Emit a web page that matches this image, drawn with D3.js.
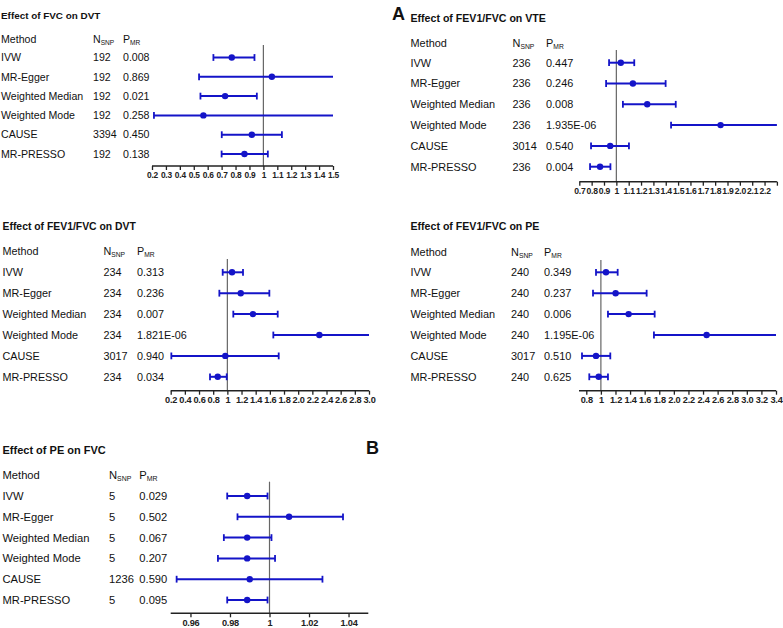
<!DOCTYPE html>
<html>
<head>
<meta charset="utf-8">
<script src="https://cdn.jsdelivr.net/npm/d3@7"></script>
<style>
  body { margin: 0; background: #fff; }
  svg { font-family: "Liberation Sans", Arial, sans-serif; }
</style>
</head>
<body>
<svg id="chart" width="783" height="628"></svg>
<script>
// shared row labels
const methods = ["IVW", "MR-Egger", "Weighted Median", "Weighted Mode", "CAUSE", "MR-PRESSO"];

// Effect of FVC on DVT
const fvcDvtN = ["192", "192", "192", "192", "3394", "192"];
const fvcDvtP = ["0.008", "0.869", "0.021", "0.258", "0.450", "0.138"];
const fvcDvtOR = [0.773, 1.061, 0.725, 0.569, 0.917, 0.864];
const fvcDvtLo = [0.641, 0.538, 0.548, 0.214, 0.701, 0.700];
const fvcDvtHi = [0.936, 2.09, 0.953, 1.51, 1.133, 1.032];
const fvcDvtTicks = [0.2, 0.3, 0.4, 0.5, 0.6, 0.7, 0.8, 0.9, 1, 1.1, 1.2, 1.3, 1.4, 1.5];
const fvcDvtTickLabels = ["0.2", "0.3", "0.4", "0.5", "0.6", "0.7", "0.8", "0.9", "1", "1.1", "1.2", "1.3", "1.4", "1.5"];

// Effect of FEV1/FVC on VTE
const vteN = ["236", "236", "236", "236", "3014", "236"];
const vteP = ["0.447", "0.246", "0.008", "1.935E-06", "0.540", "0.004"];
const vteOR = [1.036, 1.134, 1.250, 1.844, 0.950, 0.868];
const vteLo = [0.941, 0.917, 1.053, 1.443, 0.795, 0.787];
const vteHi = [1.145, 1.399, 1.481, 2.36, 1.102, 0.952];
const vteTicks = [0.7, 0.8, 0.9, 1, 1.1, 1.2, 1.3, 1.4, 1.5, 1.6, 1.7, 1.8, 1.9, 2.0, 2.1, 2.2, 2.3];
const vteTickLabels = ["0.7", "0.8", "0.9", "1", "1.1", "1.2", "1.3", "1.4", "1.5", "1.6", "1.7", "1.8", "1.9", "2.0", "2.1", "2.2", ""];

// Effect of FEV1/FVC on DVT
const dvtN = ["234", "234", "234", "234", "3017", "234"];
const dvtP = ["0.313", "0.236", "0.007", "1.821E-06", "0.940", "0.034"];
const dvtOR = [1.066, 1.189, 1.362, 2.299, 0.971, 0.864];
const dvtLo = [0.934, 0.887, 1.084, 1.649, 0.209, 0.755];
const dvtHi = [1.221, 1.593, 1.711, 3.2, 1.725, 0.991];
const dvtTicks = [0.2, 0.4, 0.6, 0.8, 1, 1.2, 1.4, 1.6, 1.8, 2.0, 2.2, 2.4, 2.6, 2.8, 3.0];
const dvtTickLabels = ["0.2", "0.4", "0.6", "0.8", "1", "1.2", "1.4", "1.6", "1.8", "2.0", "2.2", "2.4", "2.6", "2.8", "3.0"];

// Effect of FEV1/FVC on PE
const peN = ["240", "240", "240", "240", "3017", "240"];
const peP = ["0.349", "0.237", "0.006", "1.195E-06", "0.510", "0.625"];
const peOR = [1.070, 1.202, 1.380, 2.449, 0.933, 0.970];
const peLo = [0.933, 0.892, 1.097, 1.727, 0.741, 0.841];
const peHi = [1.230, 1.627, 1.737, 3.47, 1.129, 1.097];
const peTicks = [0.8, 1, 1.2, 1.4, 1.6, 1.8, 2.0, 2.2, 2.4, 2.6, 2.8, 3.0, 3.2, 3.4];
const peTickLabels = ["0.8", "1", "1.2", "1.4", "1.6", "1.8", "2.0", "2.2", "2.4", "2.6", "2.8", "3.0", "3.2", "3.4"];

// Effect of PE on FVC
const peFvcN = ["5", "5", "5", "5", "1236", "5"];
const peFvcP = ["0.029", "0.502", "0.067", "0.207", "0.590", "0.095"];
const peFvcOR = [0.9887, 1.0099, 0.9887, 0.9887, 0.9900, 0.9887];
const peFvcLo = [0.9786, 0.9838, 0.9769, 0.9739, 0.9530, 0.9786];
const peFvcHi = [0.9990, 1.0372, 1.0010, 1.0028, 1.0268, 0.9990];
const peFvcTicks = [0.96, 0.98, 1, 1.02, 1.04];
const peFvcTickLabels = ["0.96", "0.98", "1", "1.02", "1.04"];

const blue = "#1414c8";
const svg = d3.select("#chart");

// layout of each panel
const panels = [
  { title: "Effect of FVC on DVT", n: fvcDvtN, p: fvcDvtP, or: fvcDvtOR, lo: fvcDvtLo, hi: fvcDvtHi,
    ticks: fvcDvtTicks, labels: fvcDvtTickLabels, domain: [0.2, 1.5], range: [152, 333],
    x0: 1, nX: 93, pX: 123, titleY: 16, headY: 39, rowTop: 57.5, rowStep: 19.3, axisY: 166, refTop: 45, fs: 10.6, tfs: 9.9, afs: 8.4 },
  { title: "Effect of FEV1/FVC on VTE", n: vteN, p: vteP, or: vteOR, lo: vteLo, hi: vteHi,
    ticks: vteTicks, labels: vteTickLabels, domain: [0.7, 2.3], range: [579.3, 776.9],
    x0: 410.5, nX: 512.5, pX: 546, titleY: 18, headY: 42.7, rowTop: 62.7, rowStep: 20.8, axisY: 181.7, refTop: 50, fs: 10.9, tfs: 10.6, afs: 8.6 },
  { title: "Effect of FEV1/FVC on DVT", n: dvtN, p: dvtP, or: dvtOR, lo: dvtLo, hi: dvtHi,
    ticks: dvtTicks, labels: dvtTickLabels, domain: [0.2, 3.0], range: [170.7, 369],
    x0: 2.5, nX: 103.5, pX: 137, titleY: 226.5, headY: 251.7, rowTop: 272.3, rowStep: 20.9, axisY: 390.7, refTop: 259, fs: 10.8, tfs: 10.4, afs: 9.2 },
  { title: "Effect of FEV1/FVC on PE", n: peN, p: peP, or: peOR, lo: peLo, hi: peHi,
    ticks: peTicks, labels: peTickLabels, domain: [0.7, 3.4], range: [579, 776],
    x0: 410.5, nX: 511, pX: 544, titleY: 226.5, headY: 251.7, rowTop: 272.3, rowStep: 20.9, axisY: 390.7, refTop: 260, fs: 10.9, tfs: 10.6, afs: 9.2 },
  { title: "Effect of PE on FVC", n: peFvcN, p: peFvcP, or: peFvcOR, lo: peFvcLo, hi: peFvcHi,
    ticks: peFvcTicks, labels: peFvcTickLabels, domain: [0.95, 1.05], range: [170.7, 368.3],
    x0: 2.5, nX: 109, pX: 139.3, titleY: 450, headY: 475, rowTop: 496, rowStep: 20.8, axisY: 613.3, refTop: 481.7, fs: 11.2, tfs: 11, afs: 9.2 }
];

panels.forEach(function (pn) {
  var g = svg.append("g");
  var x = d3.scaleLinear().domain(pn.domain).range(pn.range).clamp(true);
  var y = d3.scalePoint().domain(d3.range(methods.length))
    .range([pn.rowTop, pn.rowTop + pn.rowStep * (methods.length - 1)]);

  // title
  g.append("text").attr("x", pn.x0).attr("y", pn.titleY).attr("dy", "0.35em")
    .attr("font-size", pn.tfs).attr("font-weight", "bold").attr("fill", "#111")
    .text(pn.title);

  // header row
  var head = g.append("g").attr("font-size", pn.fs).attr("fill", "#111");
  head.append("text").attr("x", pn.x0).attr("y", pn.headY).attr("dy", "0.35em").text("Method");
  var nt = head.append("text").attr("x", pn.nX).attr("y", pn.headY).attr("dy", "0.35em");
  nt.append("tspan").text("N");
  nt.append("tspan").attr("font-size", pn.fs * 0.62).attr("dy", "0.3em").text("SNP");
  var pt = head.append("text").attr("x", pn.pX).attr("y", pn.headY).attr("dy", "0.35em");
  pt.append("tspan").text("P");
  pt.append("tspan").attr("font-size", pn.fs * 0.62).attr("dy", "0.3em").text("MR");

  // table text
  var rows = g.append("g").attr("font-size", pn.fs).attr("fill", "#111");
  rows.selectAll(".m").data(methods).join("text")
    .attr("x", pn.x0).attr("y", (d, i) => y(i)).attr("dy", "0.35em").text(d => d);
  rows.selectAll(".n").data(pn.n).join("text")
    .attr("x", pn.nX).attr("y", (d, i) => y(i)).attr("dy", "0.35em").text(d => d);
  rows.selectAll(".p").data(pn.p).join("text")
    .attr("x", pn.pX).attr("y", (d, i) => y(i)).attr("dy", "0.35em").text(d => d);

  // reference line at 1
  g.append("line").attr("x1", x(1)).attr("x2", x(1))
    .attr("y1", pn.refTop).attr("y2", pn.axisY)
    .attr("stroke", "#666").attr("stroke-width", 1.2);

  // x axis
  var axis = g.append("g").attr("transform", "translate(0," + pn.axisY + ")")
    .call(d3.axisBottom(x).tickValues(pn.ticks).tickSize(4).tickPadding(2)
      .tickFormat((d, i) => pn.labels[i]));
  axis.select(".domain").attr("stroke", "#222").attr("stroke-width", 1.5)
    .attr("d", "M" + pn.range[0] + ",0H" + pn.range[1]);
  axis.selectAll(".tick line").attr("stroke", "#222").attr("stroke-width", 1.3);
  axis.selectAll(".tick text").attr("font-size", pn.afs).attr("font-weight", "bold")
    .attr("font-family", "Liberation Sans, Arial, sans-serif").attr("fill", "#222")
    .attr("letter-spacing", -0.2);

  // whiskers
  var dat = methods.map((m, i) => ({ i: i, or: pn.or[i], lo: pn.lo[i], hi: pn.hi[i] }));
  var marks = g.append("g");
  marks.selectAll(".ci").data(dat).join("line")
    .attr("x1", d => x(d.lo)).attr("x2", d => x(d.hi))
    .attr("y1", d => y(d.i)).attr("y2", d => y(d.i))
    .attr("stroke", blue).attr("stroke-width", 2);
  var caps = [];
  dat.forEach(function (d) {
    if (d.lo >= pn.domain[0]) caps.push({ i: d.i, v: d.lo });
    if (d.hi <= pn.domain[1]) caps.push({ i: d.i, v: d.hi });
  });
  marks.selectAll(".cap").data(caps).join("line")
    .attr("x1", d => x(d.v)).attr("x2", d => x(d.v))
    .attr("y1", d => y(d.i) - 3.4).attr("y2", d => y(d.i) + 3.4)
    .attr("stroke", blue).attr("stroke-width", 1.8);
  marks.selectAll(".pt").data(dat).join("circle")
    .attr("cx", d => x(d.or)).attr("cy", d => y(d.i)).attr("r", 3.2)
    .attr("fill", blue);
});

// panel letters
svg.append("text").attr("x", 392).attr("y", 14).attr("dy", "0.35em")
  .attr("font-size", 18).attr("font-weight", "bold").attr("fill", "#111").text("A");
svg.append("text").attr("x", 366).attr("y", 448).attr("dy", "0.35em")
  .attr("font-size", 18).attr("font-weight", "bold").attr("fill", "#111").text("B");
</script>
</body>
</html>
